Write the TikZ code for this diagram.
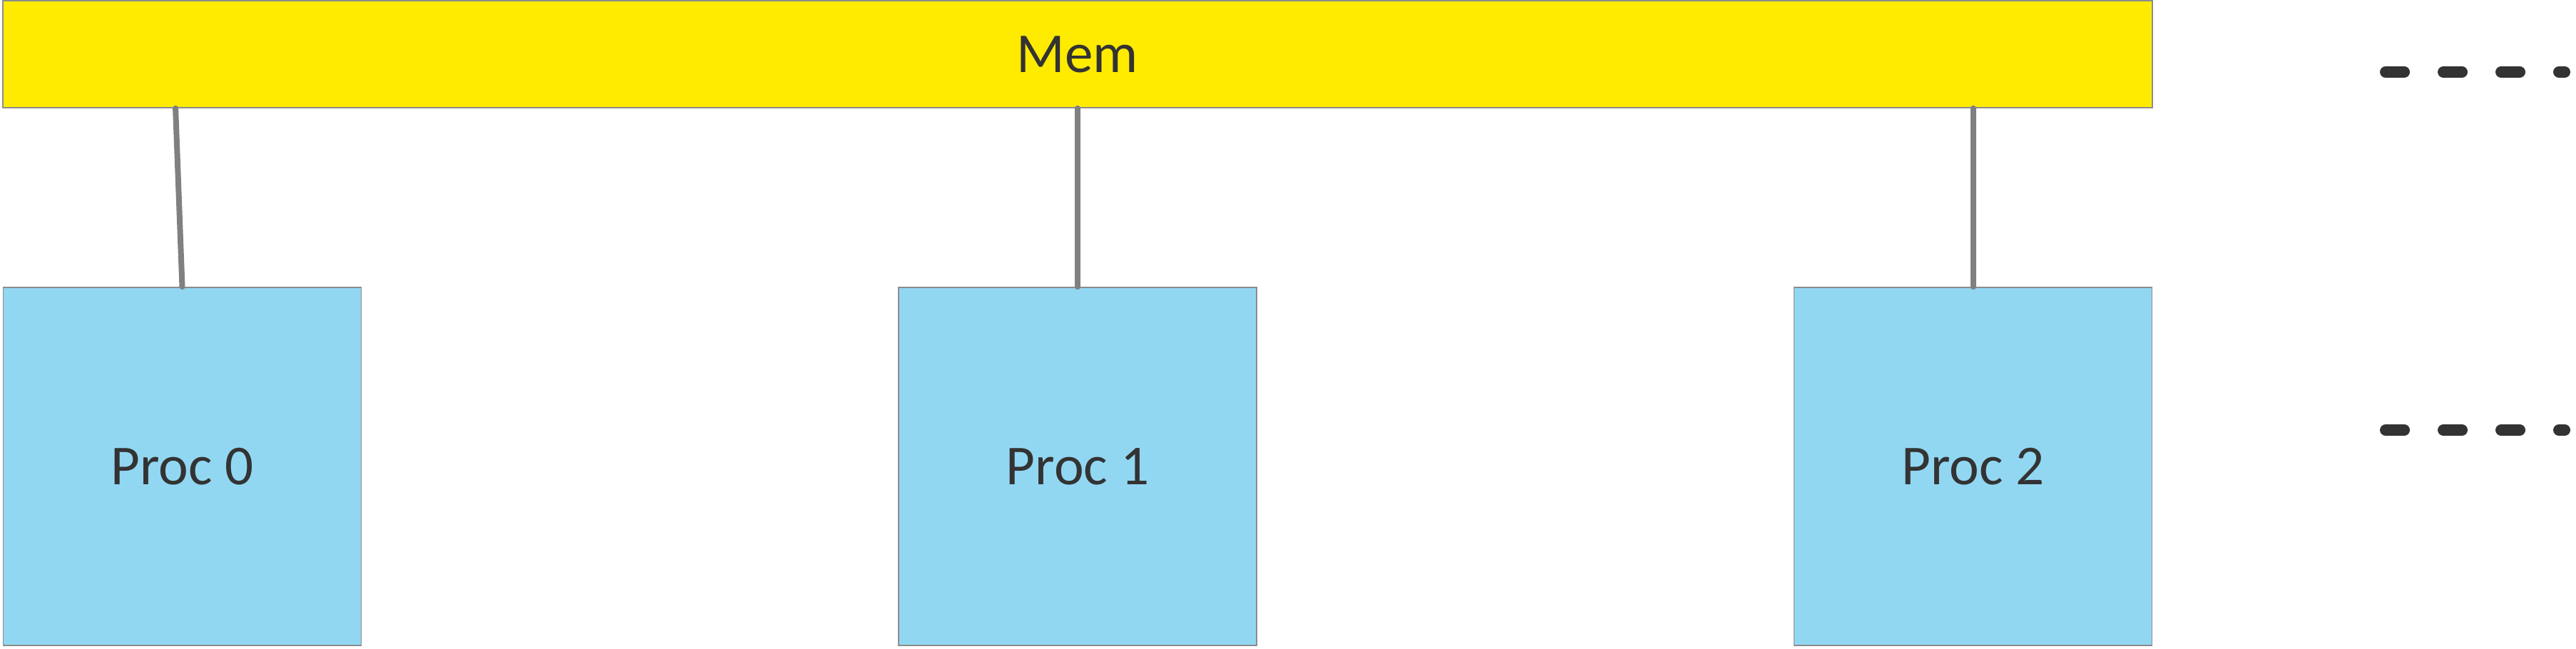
\documentclass[tikz,border=0pt]{standalone}
\usepackage{fontspec}
\setmainfont{Carlito}
\usetikzlibrary{calc,positioning}
\definecolor{memyellow}{RGB}{255,235,0}
\definecolor{procblue}{RGB}{146,215,242}
\definecolor{boxline}{RGB}{140,140,140}
\definecolor{busgray}{RGB}{128,128,128}
\definecolor{inkgray}{RGB}{51,51,51}
\tikzset{
     proc node/.style={draw=boxline, line width=0.5pt, fill=procblue, text=inkgray,
                       minimum width=5.02cm, minimum height=5.02cm, inner sep=0pt,
                       font=\fontsize{22.5}{27}\selectfont},
      mem node/.style={draw=boxline, line width=0.5pt, fill=memyellow, text=inkgray,
                       minimum width=30.14cm, minimum height=1.50cm, inner sep=0pt,
                       font=\fontsize{22.5}{27}\selectfont},
      busedge/.style  = {busgray, line width=0.08cm, line cap=round},
      moredots/.style = {inkgray, line width=0.16cm, line cap=round,
                         dash pattern=on 0.26cm off 0.55cm},
    }

\begin{document}
\begin{tikzpicture}[node distance=3cm,on grid]
        \useasboundingbox (0,0) rectangle (36.12,-9.09);
        \node [proc node] (p0) at (2.555,-6.54) {Proc 0};
        \node [proc node] (p1) [right=12.555cm of p0] {Proc 1};
        \node [proc node] (p2) [right=12.555cm of p1] {Proc 2};
        \node [mem node] (mem) [above=5.78cm of p1] {Mem};
        \coordinate (m0) at ($(mem.south west)+(2.43,0)$);
        \path[busedge]
        (p0.north) edge (m0)
        (p1.north) edge (p1.north |- mem.south)
        (p2.north) edge (p2.north |- mem.south);
        % more procs / more mem
        \coordinate (dm) at (33.45,-1.01);
        \coordinate (dp) at (33.45,-6.03);
        \draw[moredots] (dm) -- ++(2.51,0);
        \draw[moredots] (dp) -- ++(2.51,0);
    \end{tikzpicture}
\end{document}
